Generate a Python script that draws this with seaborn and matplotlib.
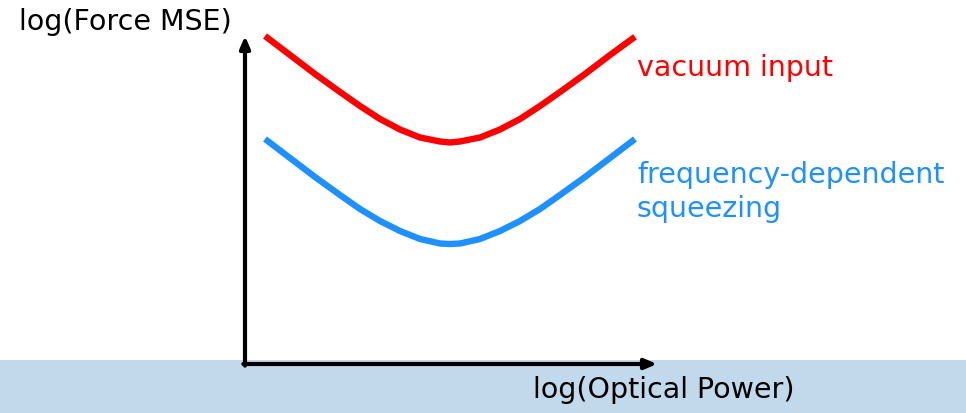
import pandas as pd
import matplotlib.pyplot as plt
import seaborn as sns

# curve samples (arbitrary log units, origin at the axis corner)
power = [0.5, 1.125, 1.75, 2.375, 2.875, 3.375, 3.875, 4.375, 4.875, 5.125,
         5.375, 5.875, 6.375, 6.875, 7.375, 7.875, 8.5, 9.125, 9.75]
vacuum_mse = [8.2, 7.725, 7.25, 6.8, 6.45, 6.125, 5.8625, 5.6625, 5.5625, 5.5375,
              5.5625, 5.6625, 5.8625, 6.125, 6.45, 6.8, 7.25, 7.725, 8.18]
squeezed_mse = [5.625, 5.15, 4.675, 4.225, 3.875, 3.575, 3.325, 3.125, 3.0125, 3.0,
                3.0125, 3.125, 3.325, 3.575, 3.875, 4.225, 4.675, 5.15, 5.625]

series_names = ["vacuum input", "frequency-dependent\nsqueezing"]
series_colors = ["#ff0000", "#1e90ff"]

df = pd.concat([
    pd.DataFrame({"power": power, "mse": vacuum_mse, "series": series_names[0]}),
    pd.DataFrame({"power": power, "mse": squeezed_mse, "series": series_names[1]}),
])

sns.set_style("white")
plt.rcParams["font.family"] = ["DejaVu Sans"]

fig = plt.figure(figsize=(9.66, 4.13), dpi=100)
ax = fig.add_axes([0, 0, 1, 1])

sns.lineplot(data=df, x="power", y="mse", hue="series",
             palette=dict(zip(series_names, series_colors)),
             linewidth=4.6, sort=False, legend=False, ax=ax,
             solid_capstyle="butt", solid_joinstyle="round")

# pixel scale: 40 px per unit, origin at (245, 364)
ax.set_xlim(-245 / 40, (966 - 245) / 40)
ax.set_ylim((364 - 413) / 40, 364 / 40)
ax.axis("off")

# light blue band at the bottom
ax.axhspan(ax.get_ylim()[0], 0.1, color="#c1d9ea", zorder=0, lw=0)

# axis arrows
arrow = dict(arrowstyle="-|>,head_length=0.7,head_width=0.3", lw=3, color="black",
             shrinkA=0, shrinkB=0)
ax.annotate("", xy=(10.3, 0), xytext=(-0.04, 0), arrowprops=arrow)
ax.annotate("", xy=(0, 8.2), xytext=(0, -0.04), arrowprops=arrow)

fs = 20.5
ax.text(-5.65, 8.55, "log(Force MSE)", fontsize=fs, color="black", ha="left", va="center")
ax.text(10.475, -0.65, "log(Optical Power)", fontsize=fs, color="black",
        ha="center", va="center")
ax.text(9.8, 7.4, series_names[0], fontsize=fs, color=series_colors[0],
        ha="left", va="center")
ax.text(9.8, 4.3, series_names[1], fontsize=fs, color=series_colors[1],
        ha="left", va="center", linespacing=1.3)

fig.savefig("out.png", dpi=100)
